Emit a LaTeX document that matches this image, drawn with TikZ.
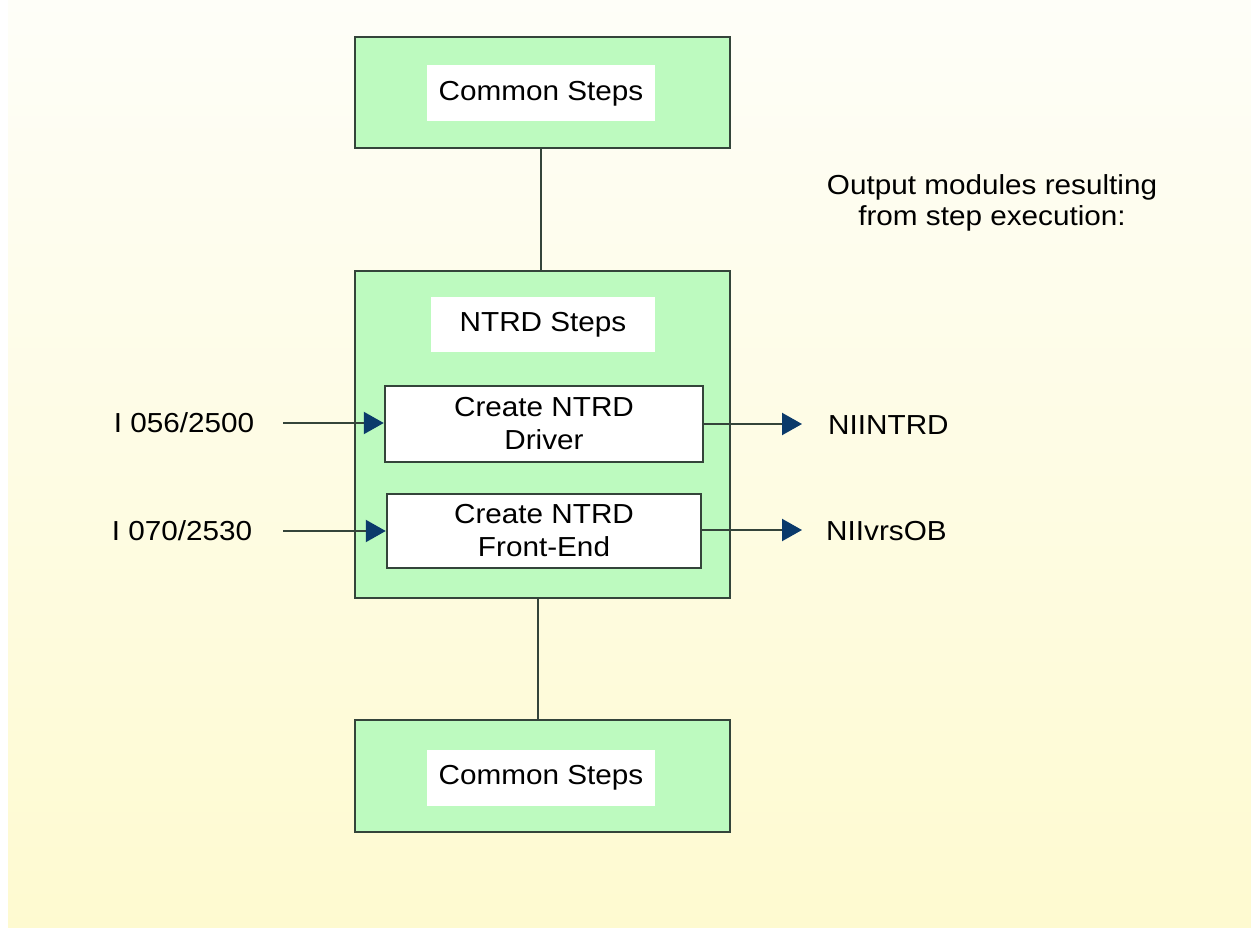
\documentclass[tikz,border=0pt]{standalone}
\usepackage{fontspec}
\setmainfont{Liberation Sans}[FakeStretch=1.08]
\usetikzlibrary{arrows.meta}
\definecolor{boxgreen}{HTML}{BDFABF}
\definecolor{boxline}{HTML}{34443A}
\definecolor{tipblue}{HTML}{0B3A6B}
\definecolor{bgtop}{HTML}{FEFEF8}
\definecolor{bgbot}{HTML}{FEFAD0}
\tikzset{
  outerbox/.style={draw=boxline, line width=2.5pt, fill=boxgreen, minimum width=375pt, inner sep=0pt},
  labelbox/.style={fill=white, inner sep=0pt, minimum width=228pt, minimum height=56pt, font=\fontsize{27.5}{32}\selectfont},
  stepbox/.style={draw=boxline, line width=2.5pt, fill=white, inner sep=0pt, align=center, font=\fontsize{27.5}{33}\selectfont},
  plain/.style={inner sep=0pt, font=\fontsize{27.5}{31}\selectfont},
  conn/.style={draw=boxline, line width=2.2pt},
  arr/.style={draw=boxline, line width=2.2pt, -{Triangle[length=20pt,width=22pt,color=tipblue]}},
}
\begin{document}
\begin{tikzpicture}[x=1pt,y=-1pt]
\useasboundingbox (0,0) rectangle (1251,928);
\fill[white] (0,0) rectangle (1251,928);
\shade[top color=bgtop, bottom color=bgbot] (8,0) rectangle (1251,928);

% outer boxes
\node[outerbox, minimum height=111pt] (top) at (542.5,92.5) {};
\node[outerbox, minimum height=327pt] (mid) at (542.5,434.5) {};
\node[outerbox, minimum height=112pt] (bot) at (542.5,776) {};

% labels inside
\node[labelbox] (topl) at (541,93.5) {Common Steps};
\node[labelbox, minimum width=224pt, minimum height=55pt] (midl) at (543,324.5) {NTRD Steps};
\node[labelbox] (botl) at (541,777.5) {Common Steps};

% step boxes
\node[stepbox, minimum width=318pt, minimum height=76pt] (drv) at (544,424) {Create NTRD\\Driver};
\node[stepbox, minimum width=314pt, minimum height=74pt] (fe) at (544,531) {Create NTRD\\Front-End};

% connectors between outer boxes
\draw[conn] (top.south -| 541,0) -- (mid.north -| 541,0);
\draw[conn] (mid.south -| 538,0) -- (bot.north -| 538,0);

% inputs
\node[plain] (in1) at (184,423) {I 056/2500};
\node[plain] (in2) at (182,531) {I 070/2530};
\coordinate (in1s) at (283,423);
\coordinate (in2s) at (283,531);
\draw[arr] (in1s) -- (drv.west |- in1s);
\draw[arr] (in2s) -- (fe.west |- in2s);

% outputs
\coordinate (out1e) at (802,424);
\coordinate (out2e) at (802,530);
\draw[arr] (drv.east |- out1e) -- (out1e);
\draw[arr] (fe.east |- out2e) -- (out2e);
\node[plain, anchor=west] (o1) at (828,425) {NIINTRD};
\node[plain, anchor=west] (o2) at (826,531) {NIIvrsOB};

% note
\node[plain, align=center] (note) at (992,203) {Output modules resulting\\from step execution:};
\end{tikzpicture}
\end{document}
